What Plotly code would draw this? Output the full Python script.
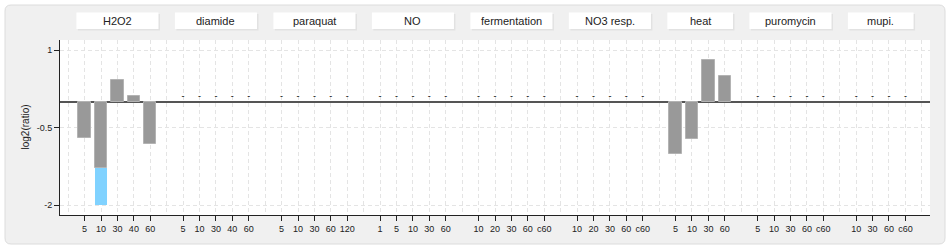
import plotly.graph_objects as go

# ---------------- data ----------------
groups = ["H2O2", "diamide", "paraquat", "NO", "fermentation",
          "NO3 resp.", "heat", "puromycin", "mupi."]

tick_labels = [
    ["5", "10", "30", "40", "60"],
    ["5", "10", "30", "40", "60"],
    ["5", "10", "30", "60", "120"],
    ["1", "5", "10", "30", "60"],
    ["10", "20", "30", "60", "c60"],
    ["10", "20", "30", "60", "c60"],
    ["5", "10", "30", "60"],
    ["5", "10", "30", "60", "c60"],
    ["10", "30", "60", "c60"],
]

# log2(ratio) values (None = no data, shown as a dash)
gray_values = [
    [-0.71, -1.29, 0.41, 0.11, -0.82],
    [None, None, None, None, None],
    [None, None, None, None, None],
    [None, None, None, None, None],
    [None, None, None, None, None],
    [None, None, None, None, None],
    [-1.02, -0.72, 0.81, 0.50],
    [None, None, None, None, None],
    [None, None, None, None],
]
# extra part of the bar (light blue) beyond the gray one
blue_values = [
    [0, -0.71, 0, 0, 0],
    [0, 0, 0, 0, 0],
    [0, 0, 0, 0, 0],
    [0, 0, 0, 0, 0],
    [0, 0, 0, 0, 0],
    [0, 0, 0, 0, 0],
    [0, 0, 0, 0],
    [0, 0, 0, 0, 0],
    [0, 0, 0, 0],
]

y_tickvals = [1, -0.5, -2]
y_ticktext = ["1", "-0.5", "-2"]

# ---------------- layout computation ----------------
pos = 1
slots, labels, gvals, bvals, missing = [], [], [], [], []
group_spans = []
for g, labs, gv, bv in zip(groups, tick_labels, gray_values, blue_values):
    start = pos
    for i, lab in enumerate(labs):
        slots.append(pos)
        labels.append(lab)
        gvals.append(gv[i])
        bvals.append(bv[i] if bv[i] else None)
        if gv[i] is None:
            missing.append(pos)
        pos += 1
    group_spans.append((g, start, pos - 1))
    pos += 1
n_slots = pos  # includes trailing empty slot

FONT = "Liberation Sans, Arial, sans-serif"

fig = go.Figure()
fig.add_trace(go.Bar(x=slots, y=gvals, width=0.75,
                     marker=dict(color="#999999", line=dict(color="#b3b3b3", width=1)),
                     showlegend=False, hoverinfo="skip"))
fig.add_trace(go.Bar(x=slots, y=bvals, width=0.75,
                     marker=dict(color="#80d2ff", line=dict(width=0)),
                     showlegend=False, hoverinfo="skip"))
fig.add_trace(go.Scatter(x=missing, y=[0] * len(missing), mode="text",
                         text=["-"] * len(missing), textposition="top center",
                         textfont=dict(size=9, color="#000000", family=FONT),
                         showlegend=False, hoverinfo="skip"))

# plot geometry (px)
W, H = 950, 250
ml, mr, mt, mb = 60, 20, 40, 35
pw, ph = W - ml - mr, H - mt - mb

def px_x(p):
    return (p - ml) / pw

def px_y(p):
    return (H - mb - p) / ph

shapes = []
# outer rounded container
x0, x1 = px_x(5), px_x(945)
y0, y1 = px_y(244), px_y(5)
rx, ry = 6 / pw, 6 / ph
path = (f"M {x0+rx},{y1} L {x1-rx},{y1} Q {x1},{y1} {x1},{y1-ry} "
        f"L {x1},{y0+ry} Q {x1},{y0} {x1-rx},{y0} L {x0+rx},{y0} "
        f"Q {x0},{y0} {x0},{y0+ry} L {x0},{y1-ry} Q {x0},{y1} {x0+rx},{y1} Z")
shapes.append(dict(type="path", xref="paper", yref="paper", path=path,
                   fillcolor="#f0f0f0", line=dict(color="#dcdcdc", width=1),
                   layer="below"))
# white plot area
shapes.append(dict(type="rect", xref="paper", yref="paper", x0=0, x1=1, y0=0, y1=1,
                   fillcolor="#ffffff", line=dict(width=0), layer="below"))

annotations = []
bx_top, bx_bot = px_y(12.5), px_y(29)
slot_px = pw / n_slots
for g, s, e in group_spans:
    # shadow
    shapes.append(dict(type="rect", xref="x", yref="paper",
                       x0=s - 0.5 + 1.5 / slot_px, x1=e + 0.5 + 1.5 / slot_px,
                       y0=bx_bot - 1.5 / ph, y1=bx_top - 1.5 / ph,
                       fillcolor="#e2e2e2", line=dict(width=0), layer="below"))
    shapes.append(dict(type="rect", xref="x", yref="paper",
                       x0=s - 0.5, x1=e + 0.5, y0=bx_bot, y1=bx_top,
                       fillcolor="#ffffff", line=dict(width=0), layer="below"))
    annotations.append(dict(x=(s + e) / 2, y=(bx_top + bx_bot) / 2, xref="x", yref="paper",
                            text=g, showarrow=False, xanchor="center", yanchor="middle",
                            font=dict(size=11, color="#222222", family=FONT)))

annotations.append(dict(x=px_x(25), y=0.5, xref="paper", yref="paper", text="log2(ratio)",
                        textangle=-90, showarrow=False, xanchor="center", yanchor="middle",
                        font=dict(size=10, color="#222222", family=FONT)))

fig.update_layout(
    width=W, height=H,
    margin=dict(l=ml, r=mr, t=mt, b=mb, pad=0),
    paper_bgcolor="#ffffff", plot_bgcolor="rgba(0,0,0,0)",
    barmode="relative", bargap=0,
    shapes=shapes, annotations=annotations,
    font=dict(family=FONT, size=9, color="#222222"),
    showlegend=False,
)
fig.update_xaxes(
    range=[-0.5, n_slots - 0.5], tickmode="array", tickvals=slots, ticktext=labels,
    ticks="outside", ticklen=5, tickcolor="#222222", tickwidth=1,
    showline=True, linecolor="#222222", linewidth=1,
    showgrid=True, gridcolor="#e4e4e4", griddash="4px,3px", gridwidth=1,
    minor=dict(tick0=0, dtick=1, showgrid=True, gridcolor="#e4e4e4",
               griddash="4px,3px", gridwidth=1, ticklen=0),
    tickfont=dict(size=9, color="#222222", family=FONT),
    zeroline=False, fixedrange=True,
)
fig.update_yaxes(
    range=[-2.1935, 1.1935], tickmode="array", tickvals=y_tickvals, ticktext=y_ticktext,
    ticks="outside", ticklen=5, tickcolor="#222222", tickwidth=1,
    showline=True, linecolor="#222222", linewidth=1,
    showgrid=True, gridcolor="#e4e4e4", griddash="4px,3px", gridwidth=1,
    zeroline=True, zerolinecolor="#555555", zerolinewidth=1.5,
    tickfont=dict(size=9, color="#222222", family=FONT),
    fixedrange=True,
)

fig.write_html("out.html")
